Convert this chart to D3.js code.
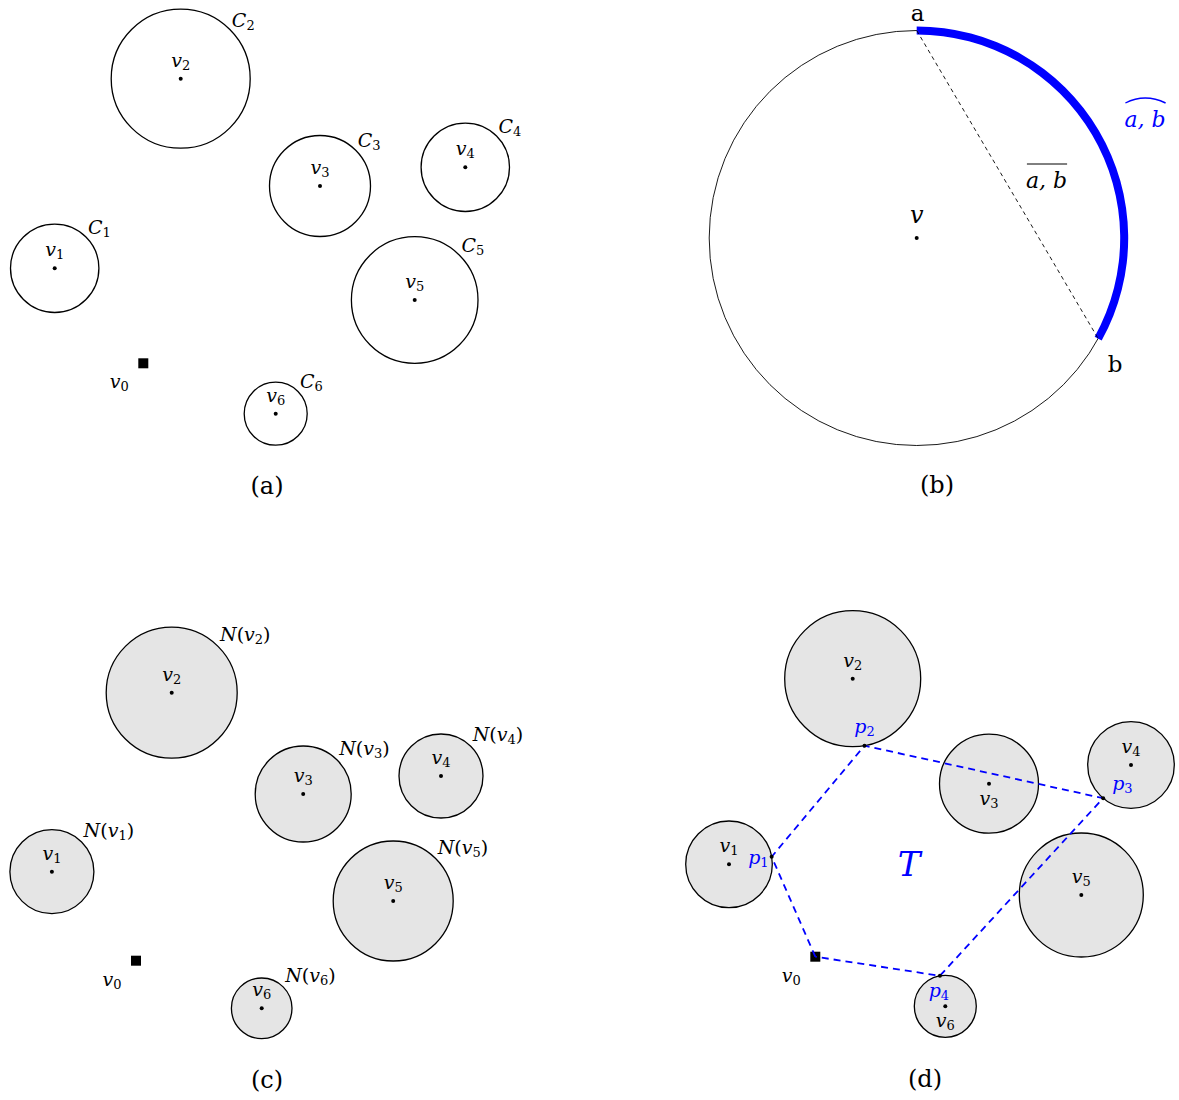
<!DOCTYPE html>
<html>
<head>
<meta charset="utf-8">
<script src="https://cdn.jsdelivr.net/npm/d3@7"></script>
<style>
  html, body { margin: 0; padding: 0; background: #fff; }
  text { font-family: "DejaVu Serif", serif; }
</style>
</head>
<body>
<svg id="fig" width="1179" height="1100"></svg>
<script>
// ---------------------------------------------------------------
// Node indices shared by panels (a), (c) and (d)
const nodeIds = [1, 2, 3, 4, 5, 6];

// Panel (a): circles C_i around nodes v_i (panel-local units)
const aCx = [54.7, 180.7, 320.0, 465.3, 414.7, 275.7];
const aCy = [268.3, 78.7, 186.0, 167.3, 300.0, 413.7];
const aR  = [44.2, 69.5, 50.5, 44.2, 63.3, 31.5];
const aDepot = [143.3, 363.3];

// Panel (b): one disc around v, arc from a to b (degrees clockwise from 12 o'clock)
const bDisc = [226.7, 238.0, 207.5];      // cx, cy, r
const bArcDeg = [0, 119];                 // a, b

// Panel (c): neighbourhoods N(v_i)
const cCx = [51.9, 171.7, 303.2, 441.0, 393.2, 261.7];
const cCy = [271.7, 92.7, 194.0, 176.0, 301.0, 408.3];
const cR  = [42.0, 65.5, 48.0, 42.0, 60.0, 30.3];
const cDepot = [136.0, 360.7];

// Panel (d): neighbourhoods and the tour T through p_1..p_4
const dCx = [59.0, 182.7, 319.0, 461.0, 411.3, 275.3];
const dCy = [264.3, 78.7, 183.7, 165.0, 295.0, 406.3];
const dR  = [43.3, 68.0, 49.5, 43.3, 62.0, 31.0];
const dDepot = [145.3, 356.7];
const tourNode  = [1, 2, 4, 6];           // p_k lies on N(v_tourNode[k])
const tourAngle = [-10, 80, 130, -100];   // position on that circle, degrees (screen)

const captions = ["(a)", "(b)", "(c)", "(d)"];
// ---------------------------------------------------------------

const svg = d3.select("#fig");
const BLUE = "#0000ff";
const GREY = "#e5e5e5";
const MATH = 19, SUB = 13;

function panel(ox, oy) {
  const x = d3.scaleLinear().domain([0, 500]).range([ox, ox + 500]);
  const y = d3.scaleLinear().domain([0, 500]).range([oy, oy + 500]);
  const r = d3.scaleLinear().domain([0, 500]).range([0, 500]);
  return { x, y, r, g: svg.append("g") };
}

// italic symbol with a subscript, e.g. v_2, C_3, p_1
function subLabel(g, x, y, base, sub, opt = {}) {
  const t = g.append("text")
    .attr("x", x).attr("y", y)
    .attr("text-anchor", opt.anchor || "middle")
    .attr("fill", opt.color || "#000")
    .style("font-size", (opt.size || MATH) + "px");
  t.append("tspan").style("font-style", "italic").text(base);
  t.append("tspan").attr("dy", 3).style("font-size", (opt.sub || SUB) + "px").text(sub);
  return t;
}

// N(v_i)
function nLabel(g, x, y, sub) {
  const t = g.append("text").attr("x", x).attr("y", y)
    .attr("text-anchor", "start").style("font-size", MATH + "px");
  t.append("tspan").style("font-style", "italic").text("N");
  t.append("tspan").text("(");
  t.append("tspan").style("font-style", "italic").text("v");
  t.append("tspan").attr("dy", 3).style("font-size", SUB + "px").text(sub);
  t.append("tspan").attr("dy", -3).text(")");
}

function caption(x, y, s) {
  svg.append("text").attr("x", x).attr("y", y).attr("text-anchor", "middle")
    .style("font-size", "24px").text(s);
}

function depot(p, pos) {
  const s = 10;
  p.g.append("rect")
    .attr("x", p.x(pos[0]) - s / 2).attr("y", p.y(pos[1]) - s / 2)
    .attr("width", s).attr("height", s).attr("fill", "#000");
  subLabel(p.g, p.x(pos[0]) - 24, p.y(pos[1]) + 25, "v", "0");
}

function dot(g, x, y) {
  g.append("circle").attr("cx", x).attr("cy", y).attr("r", 2).attr("fill", "#000");
}

// Discs for each node
function discs(p, cx, cy, rr, fill) {
  nodeIds.forEach((id, i) => {
    p.g.append("circle")
      .attr("cx", p.x(cx[i])).attr("cy", p.y(cy[i])).attr("r", p.r(rr[i]))
      .attr("fill", fill).attr("stroke", "#000").attr("stroke-width", 1.3);
  });
}
// Centre dots with v_i labels (above, or below for ids in `below`)
function centres(p, cx, cy, below = []) {
  nodeIds.forEach((id, i) => {
    dot(p.g, p.x(cx[i]), p.y(cy[i]));
    const dy = below.includes(id) ? 21 : -12;
    subLabel(p.g, p.x(cx[i]), p.y(cy[i]) + dy, "v", String(id));
  });
}

// ---------------- (a) ----------------
const pa = panel(0, 0);
discs(pa, aCx, aCy, aR, "none");
centres(pa, aCx, aCy);
nodeIds.forEach((id, i) => {
  const k = Math.SQRT1_2 * pa.r(aR[i]);
  subLabel(pa.g, pa.x(aCx[i]) + k + 2, pa.y(aCy[i]) - k - 3, "C", String(id), { anchor: "start" });
});
depot(pa, aDepot);
caption(267, 494, captions[0]);

// ---------------- (b) ----------------
const pb = panel(690, 0);
const bx = pb.x(bDisc[0]), by = pb.y(bDisc[1]), br = pb.r(bDisc[2]);
pb.g.append("circle").attr("cx", bx).attr("cy", by).attr("r", br)
  .attr("fill", "none").attr("stroke", "#000").attr("stroke-width", 0.9);
const toRad = d => d * Math.PI / 180;
const arcGen = d3.arc().innerRadius(br - 4).outerRadius(br + 4)
  .startAngle(toRad(bArcDeg[0])).endAngle(toRad(bArcDeg[1]));
pb.g.append("path").attr("transform", `translate(${bx},${by})`)
  .attr("d", arcGen()).attr("fill", BLUE);
const ptA = [bx + br * Math.sin(toRad(bArcDeg[0])), by - br * Math.cos(toRad(bArcDeg[0]))];
const ptB = [bx + br * Math.sin(toRad(bArcDeg[1])), by - br * Math.cos(toRad(bArcDeg[1]))];
pb.g.append("line").attr("x1", ptA[0]).attr("y1", ptA[1]).attr("x2", ptB[0]).attr("y2", ptB[1])
  .attr("stroke", "#000").attr("stroke-width", 0.9).attr("stroke-dasharray", "4,3.5");
dot(pb.g, bx, by);
pb.g.append("text").attr("x", bx).attr("y", by - 15).attr("text-anchor", "middle")
  .style("font-size", "24px").style("font-style", "italic").text("v");
pb.g.append("text").attr("x", ptA[0] + 1).attr("y", ptA[1] - 10).attr("text-anchor", "middle")
  .style("font-size", "23px").text("a");
pb.g.append("text").attr("x", ptB[0] + 17).attr("y", ptB[1] + 33).attr("text-anchor", "middle")
  .style("font-size", "23px").text("b");

// chord label with overline
const chord = pb.g.append("text").attr("x", 1046.5).attr("y", 187.5).attr("text-anchor", "middle")
  .style("font-size", "22px").style("font-style", "italic").text("a, b");
const cb = chord.node().getBBox();
pb.g.append("line").attr("x1", cb.x + 1).attr("x2", cb.x + cb.width)
  .attr("y1", 164).attr("y2", 164).attr("stroke", "#000").attr("stroke-width", 1);

// arc label with a hat
const arcLbl = pb.g.append("text").attr("x", 1145).attr("y", 127).attr("text-anchor", "middle")
  .attr("fill", BLUE).style("font-size", "22px").style("font-style", "italic").text("a, b");
const ab = arcLbl.node().getBBox();
pb.g.append("path")
  .attr("d", `M${ab.x + 1},${103} Q${ab.x + ab.width / 2},${93} ${ab.x + ab.width},${103}`)
  .attr("fill", "none").attr("stroke", BLUE).attr("stroke-width", 1.4);
caption(937, 493, captions[1]);

// ---------------- (c) ----------------
const pc = panel(0, 600);
discs(pc, cCx, cCy, cR, GREY);
centres(pc, cCx, cCy);
nodeIds.forEach((id, i) => {
  const k = Math.SQRT1_2 * pc.r(cR[i]);
  nLabel(pc.g, pc.x(cCx[i]) + k + 2, pc.y(cCy[i]) - k - 5, String(id));
});
depot(pc, cDepot);
caption(267, 1088, captions[2]);

// ---------------- (d) ----------------
const pd = panel(670, 600);
discs(pd, dCx, dCy, dR, GREY);
depot(pd, dDepot);
const tourPts = tourNode.map((n, k) => {
  const i = n - 1, t = toRad(tourAngle[k]);
  return [pd.x(dCx[i]) + pd.r(dR[i]) * Math.cos(t), pd.y(dCy[i]) + pd.r(dR[i]) * Math.sin(t)];
});
const start = [pd.x(dDepot[0]), pd.y(dDepot[1])];
pd.g.append("path")
  .attr("d", d3.line()([start, ...tourPts, start]))
  .attr("fill", "none").attr("stroke", BLUE).attr("stroke-width", 1.8)
  .attr("stroke-dasharray", "7,5");
centres(pd, dCx, dCy, [3, 6]);
tourPts.forEach(p => dot(pd.g, p[0], p[1]));
const pOff = [[-3, 7, "end"], [0, -13, "middle"], [9, -8, "start"], [-1, 21, "middle"]];
tourPts.forEach((p, k) => {
  subLabel(pd.g, p[0] + pOff[k][0], p[1] + pOff[k][1], "p", String(k + 1),
    { anchor: pOff[k][2], color: BLUE, size: 19, sub: 13 });
});
pd.g.append("text").attr("x", 909).attr("y", 876).attr("text-anchor", "middle")
  .attr("fill", BLUE).style("font-size", "34px").style("font-style", "italic").text("T");
caption(925, 1087, captions[3]);
</script>
</body>
</html>
